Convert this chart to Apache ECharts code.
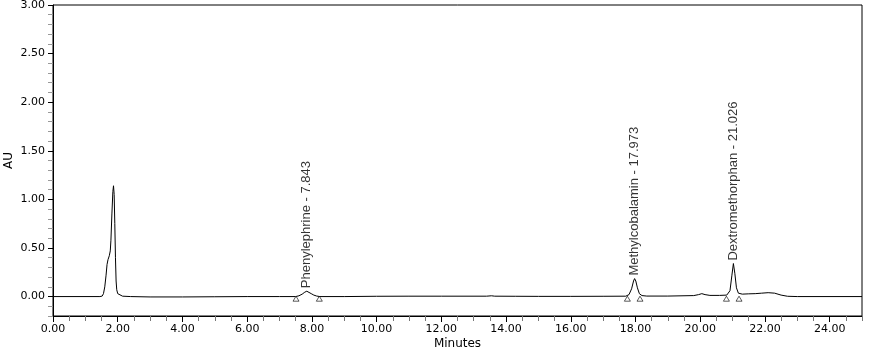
<!DOCTYPE html>
<html>
<head>
<meta charset="utf-8">
<script src="https://cdn.jsdelivr.net/npm/echarts@6/dist/echarts.min.js"></script>
<style>
  html, body { margin: 0; padding: 0; background: #fff; }
  #chart { width: 869px; height: 349px; }
</style>
</head>
<body>
<div id="chart"></div>
<script>
// Chromatogram trace (minutes, AU)
var timeMin = [0, 1.45, 1.52, 1.56, 1.60, 1.64, 1.67, 1.70, 1.74, 1.77, 1.79, 1.82, 1.85, 1.87, 1.89, 1.91, 1.93, 1.95, 1.97, 2.00, 2.05, 2.15, 2.40, 3.00, 4.00, 5.00, 6.00, 7.00, 7.50, 7.60, 7.70, 7.78, 7.843, 7.90, 7.98, 8.06, 8.15, 8.25, 9.00, 10.0, 11.0, 12.0, 13.4, 13.55, 13.65, 14.3, 15.0, 16.0, 17.0, 17.70, 17.80, 17.88, 17.94, 17.973, 18.01, 18.06, 18.12, 18.20, 18.35, 19.0, 19.8, 19.95, 20.05, 20.15, 20.3, 20.6, 20.82, 20.92, 20.98, 21.026, 21.07, 21.12, 21.18, 21.3, 21.5, 21.7, 21.9, 22.1, 22.3, 22.5, 22.7, 23.0, 25.0];
var absAU = [0, 0, 0.005, 0.03, 0.10, 0.22, 0.33, 0.38, 0.42, 0.47, 0.58, 0.85, 1.08, 1.14, 1.05, 0.75, 0.40, 0.16, 0.07, 0.03, 0.012, 0.004, 0.0, -0.004, -0.004, -0.002, 0.0, 0.0, 0.0, 0.008, 0.025, 0.045, 0.055, 0.048, 0.03, 0.015, 0.005, 0.0, 0.0, 0.003, 0.004, 0.004, 0.004, 0.008, 0.004, 0.003, 0.002, 0.002, 0.003, 0.004, 0.02, 0.08, 0.16, 0.185, 0.16, 0.09, 0.03, 0.01, 0.005, 0.005, 0.01, 0.02, 0.03, 0.02, 0.012, 0.012, 0.015, 0.06, 0.22, 0.34, 0.24, 0.09, 0.035, 0.025, 0.028, 0.03, 0.035, 0.04, 0.035, 0.015, 0.003, 0.0, 0.0];

// Identified peaks
var peakNames = ['Phenylephrine', 'Methylcobalamin', 'Dextromethorphan'];
var peakTimes = [7.843, 17.973, 21.026];
var peakHeights = [0.055, 0.185, 0.34];
var peakStarts = [7.51, 17.75, 20.81];
var peakEnds = [8.23, 18.14, 21.20];
var markerAU = [-0.022, -0.022, -0.022];

// Axis tick labels
var xTickLabels = [0, 2, 4, 6, 8, 10, 12, 14, 16, 18, 20, 22, 24];
var yTickLabels = [0, 0.5, 1.0, 1.5, 2.0, 2.5, 3.0];

var xMinor = [];
for (var i = 1; i <= 50; i++) { var v = i * 0.5; if (xTickLabels.indexOf(v) < 0) xMinor.push(v); }
var yMinor = [];
for (var j = -2; j <= 30; j++) { var w = j / 10; if (j % 5 !== 0) yMinor.push(w); }

var trace = timeMin.map(function (t, k) { return [t, absAU[k]]; });
var markers = [];
for (var m = 0; m < peakNames.length; m++) {
  markers.push([peakStarts[m], markerAU[m]]);
  markers.push([peakEnds[m], markerAU[m]]);
}
var labels = peakNames.map(function (n, k) {
  return { value: [peakTimes[k], peakHeights[k]], name: n + ' - ' + peakTimes[k].toFixed(3) };
});

var tickFont = { fontFamily: 'DejaVu Sans', fontSize: 11, color: '#000' };

var chart = echarts.init(document.getElementById('chart'), null, { renderer: 'canvas' });
chart.setOption({
  animation: false,
  backgroundColor: '#fff',
  grid: { left: 53, right: 7, top: 5, bottom: 33, containLabel: false, outerBoundsMode: 'none',
          show: true, borderColor: '#000', borderWidth: 1, backgroundColor: 'transparent' },
  xAxis: [{
    type: 'value', min: 0, max: 25, position: 'bottom',
    name: 'Minutes', nameLocation: 'middle', nameGap: 22, nameMoveOverlap: false,
    nameTextStyle: { fontFamily: 'DejaVu Sans', fontSize: 12, color: '#000' },
    axisLine: { show: true, onZero: false, lineStyle: { color: '#000', width: 1 } },
    axisTick: { show: true, length: 6, customValues: xTickLabels, lineStyle: { color: '#000' } },
    axisLabel: Object.assign({ margin: 8, customValues: xTickLabels, formatter: function (v) { return v.toFixed(2); } }, tickFont),
    splitLine: { show: false }
  }, {
    type: 'value', min: 0, max: 25, position: 'bottom',
    axisLine: { show: false, onZero: false },
    axisTick: { show: true, length: 5, customValues: xMinor, lineStyle: { color: '#777' } },
    axisLabel: { show: false },
    splitLine: { show: false }
  }],
  yAxis: [{
    type: 'value', min: -0.2, max: 3.0, position: 'left',
    name: 'AU', nameLocation: 'middle', nameGap: 38, nameMoveOverlap: false,
    nameTextStyle: { fontFamily: 'DejaVu Sans', fontSize: 12, color: '#000' },
    axisLine: { show: true, onZero: false, lineStyle: { color: '#000', width: 1 } },
    axisTick: { show: true, length: 5, customValues: yTickLabels, lineStyle: { color: '#000' } },
    axisLabel: Object.assign({ margin: 8, customValues: yTickLabels, formatter: function (v) { return v.toFixed(2); } }, tickFont),
    splitLine: { show: false }
  }, {
    type: 'value', min: -0.2, max: 3.0, position: 'left',
    axisLine: { show: false, onZero: false },
    axisTick: { show: true, length: 5, customValues: yMinor, lineStyle: { color: '#999' } },
    axisLabel: { show: false },
    splitLine: { show: false }
  }],
  series: [{
    type: 'line', data: trace, showSymbol: false, symbol: 'none',
    lineStyle: { color: '#000', width: 1 }, smooth: false, z: 3
  }, {
    type: 'scatter', data: markers, symbol: 'triangle', symbolSize: [6, 5],
    itemStyle: { color: '#fff', borderColor: '#000', borderWidth: 0.8 }, z: 4
  }, {
    type: 'scatter', data: labels, symbolSize: 0,
    label: {
      show: true, position: 'top', distance: 3, rotate: 90, align: 'left', verticalAlign: 'middle',
      formatter: function (p) { return p.name; },
      fontFamily: 'Liberation Sans', fontSize: 13, color: '#000'
    }, z: 5
  }]
});
</script>
</body>
</html>
